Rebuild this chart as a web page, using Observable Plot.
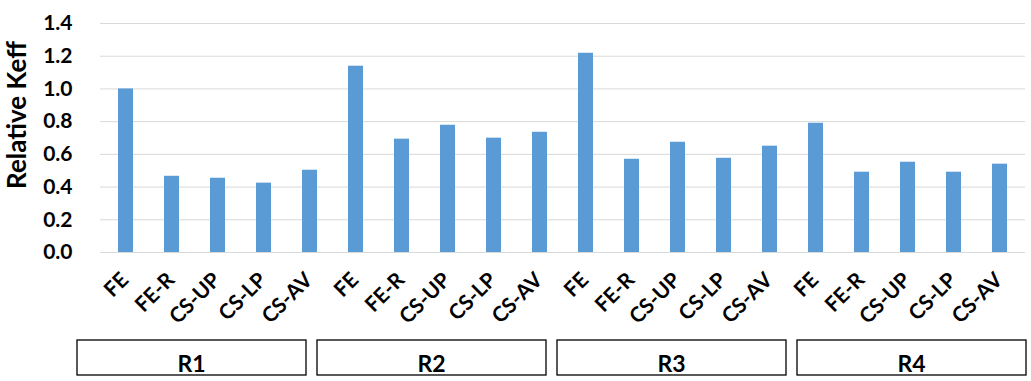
<!DOCTYPE html>
<html><head><meta charset="utf-8">
<script src="https://cdn.jsdelivr.net/npm/d3@7"></script>
<script src="https://cdn.jsdelivr.net/npm/@observablehq/plot@0.6"></script>
<style>body{margin:0;background:#fff} #chart{width:1031px;height:381px}</style>
</head><body><div id="chart"></div>
<script>
const groups = ["R1", "R2", "R3", "R4"];
const methods = ["FE", "FE-R", "CS-UP", "CS-LP", "CS-AV"];
const valuesR1 = [1.00, 0.466, 0.454, 0.424, 0.503];
const valuesR2 = [1.139, 0.693, 0.778, 0.699, 0.735];
const valuesR3 = [1.218, 0.570, 0.674, 0.576, 0.650];
const valuesR4 = [0.790, 0.491, 0.552, 0.491, 0.540];
const yTicks = [0, 0.2, 0.4, 0.6, 0.8, 1.0, 1.2, 1.4];
const yLabel = "Relative Keff";

const seriesByGroup = [valuesR1, valuesR2, valuesR3, valuesR4];
const data = groups.flatMap((g, gi) => methods.map((m, mi) => ({group: g, method: m, key: g + "|" + m, value: seriesByGroup[gi][mi]})));
const keys = data.map(d => d.key);

const FONT = "Lato, 'Open Sans', sans-serif";

// group boxes laid out evenly below the axis labels
function groupBoxes(index, scales, values, dimensions) {
  const {width: W, height: H, marginLeft: ML} = dimensions;
  const left = ML - 23, right = W - 5, gap = 11;
  const n = groups.length;
  const bw = (right - left - gap * (n - 1)) / n;
  const g = d3.create("svg:g");
  groups.forEach((gr, i) => {
    const x0 = left + i * (bw + gap);
    g.append("rect")
      .attr("x", x0).attr("y", H - 41)
      .attr("width", bw).attr("height", 35)
      .attr("fill", "none").attr("stroke", "#000").attr("stroke-width", 1.3);
    g.append("text")
      .attr("x", x0 + bw / 2).attr("y", H - 9)
      .attr("text-anchor", "middle")
      .attr("font-family", FONT).attr("font-weight", "bold").attr("font-size", 23)
      .attr("fill", "#000")
      .text(gr);
  });
  return g.node();
}

const chart = Plot.plot({
  width: 1031,
  height: 381,
  marginLeft: 100,
  marginRight: 6,
  marginTop: 23,
  marginBottom: 129,
  style: {fontFamily: FONT, fontWeight: "bold", color: "#000", background: "#fff"},
  x: {type: "band", domain: keys, paddingInner: 0.676, paddingOuter: 0.338},
  y: {domain: [0, 1.4]},
  marks: [
    Plot.gridY(yTicks, {stroke: "#d9d9d9", strokeOpacity: 1, strokeWidth: 1}),
    Plot.barY(data, {x: "key", y: "value", fill: "#5B9BD5"}),
    Plot.axisY(yTicks, {tickSize: 0, tickPadding: 28, fontSize: 21, tickFormat: d3.format(".1f"), label: null}),
    Plot.axisX({tickSize: 0, tickPadding: 24, dx: -1, tickRotate: -45, fontSize: 21, label: null, tickFormat: k => k.split("|")[1]}),
    Plot.text([yLabel], {frameAnchor: "left", textAnchor: "middle", rotate: -90, dx: -83, dy: -23, fontSize: 26, fontWeight: "bold", fill: "#000", letterSpacing: 1.4}),
    groupBoxes
  ]
});
document.getElementById("chart").append(chart);
</script>
</body></html>
